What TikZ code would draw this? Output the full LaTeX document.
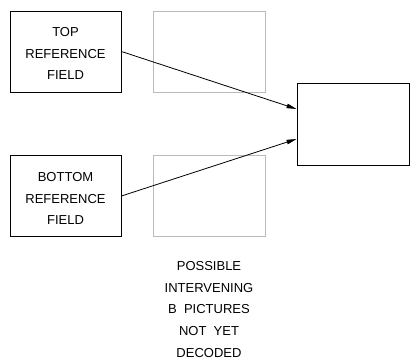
\documentclass[tikz,border=0pt]{standalone}
\usepackage{fontspec}
\setmainfont{Liberation Sans}
\usetikzlibrary{arrows.meta}
\begin{document}
\begin{tikzpicture}[x=1pt,y=-1pt,
  txt/.style={font=\fontsize{13}{21.8}\selectfont, align=center, inner sep=0pt},
  refbox/.style={draw=black, line width=0.9pt, minimum width=111pt, minimum height=81pt, inner sep=0pt},
  ghost/.style={draw=black!27, line width=0.9pt, minimum width=112pt, minimum height=81pt, inner sep=0pt},
  conn/.style={line width=0.8pt, -{Triangle[length=10pt,width=4.5pt]}}]
\useasboundingbox (0,0) rectangle (410,359);
\node[refbox] (top) at (65.5,51.5) {};
\node[txt] (toptxt) at ([yshift=-2pt]top.center) {TOP\\REFERENCE\\FIELD};
\node[ghost] (gtop) at (209,51.5) {};
\node[refbox] (bot) at (65.5,196) {};
\node[txt] (bottxt) at ([yshift=-2.5pt]bot.center) {BOTTOM\\REFERENCE\\FIELD};
\node[ghost] (gbot) at (209,196) {};
\node[draw=black, line width=0.9pt, minimum width=112pt, minimum height=82pt, inner sep=0pt] (dec) at (353,124) {};
\node[txt] (note) at (209,309.5) {POSSIBLE\\INTERVENING\\B\ \ PICTURES\\NOT\ \ YET\\DECODED};
\draw[conn] (top.east) -- ([yshift=15pt]dec.west);
\draw[conn] (bot.east) -- ([yshift=-15pt]dec.west);
\end{tikzpicture}
\end{document}
